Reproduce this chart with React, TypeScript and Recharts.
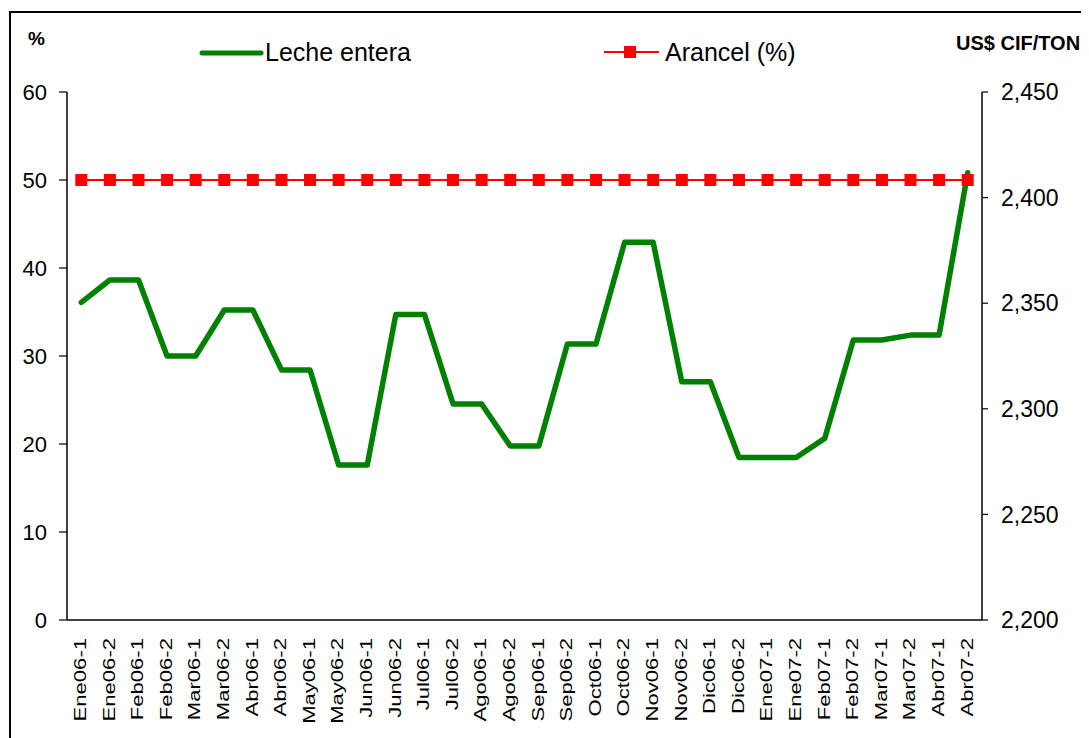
import React from 'react';
import { LineChart, Line, XAxis, YAxis, Legend } from 'recharts';

const categories = [
  'Ene06-1', 'Ene06-2', 'Feb06-1', 'Feb06-2', 'Mar06-1', 'Mar06-2', 'Abr06-1', 'Abr06-2',
  'May06-1', 'May06-2', 'Jun06-1', 'Jun06-2', 'Jul06-1', 'Jul06-2', 'Ago06-1', 'Ago06-2',
  'Sep06-1', 'Sep06-2', 'Oct06-1', 'Oct06-2', 'Nov06-1', 'Nov06-2', 'Dic06-1', 'Dic06-2',
  'Ene07-1', 'Ene07-2', 'Feb07-1', 'Feb07-2', 'Mar07-1', 'Mar07-2', 'Abr07-1', 'Abr07-2',
];

// US$ CIF/TON (right axis)
const lecheEntera = [
  2350.4, 2361, 2361, 2325, 2325, 2346.8, 2346.8, 2318.4,
  2318.4, 2273.4, 2273.4, 2344.7, 2344.7, 2302.3, 2302.3, 2282.4,
  2282.4, 2330.7, 2330.7, 2378.8, 2378.8, 2312.8, 2312.8, 2276.9,
  2276.9, 2276.9, 2286, 2332.6, 2332.6, 2334.9, 2334.9, 2411.8,
];

// % (left axis)
const arancel = [
  50, 50, 50, 50, 50, 50, 50, 50,
  50, 50, 50, 50, 50, 50, 50, 50,
  50, 50, 50, 50, 50, 50, 50, 50,
  50, 50, 50, 50, 50, 50, 50, 50,
];

const pctTicks = [0, 10, 20, 30, 40, 50, 60];
const usdTicks = [2200, 2250, 2300, 2350, 2400, 2450];
const boundaryTicks = [
  0, 1, 2, 3, 4, 5, 6, 7, 8, 9, 10, 11, 12, 13, 14, 15, 16,
  17, 18, 19, 20, 21, 22, 23, 24, 25, 26, 27, 28, 29, 30, 31, 32,
];

const data = categories.map((c, i) => ({ cat: c, leche: lecheEntera[i], arancel: arancel[i] }));

const FONT = 'Liberation Sans, Arial, Helvetica, sans-serif';

const XTick = (props: any) => {
  const { x, y, payload } = props;
  return (
    <text
      transform={`translate(${x},${y + 17}) rotate(-90) scale(1.38,1)`}
      x={0}
      y={0}
      dy="0.3em"
      textAnchor="end"
      fontSize={16}
      fontFamily={FONT}
      fill="#000"
    >
      {payload.value}
    </text>
  );
};

const SquareDot = (props: any) => {
  const { cx, cy, index } = props;
  if (cx == null || cy == null) return null;
  return <rect key={`sq-${index}`} x={cx - 6} y={cy - 6} width={12} height={12} fill="#FF0000" />;
};

const LegendContent = () => (
  <div style={{ position: 'relative', width: 1089, height: 40, fontFamily: FONT }}>
    <svg style={{ position: 'absolute', left: 198, top: 10 }} width={68} height={12}>
      <line x1={4} y1={6} x2={63} y2={6} stroke="#008000" strokeWidth={5} strokeLinecap="round" />
    </svg>
    <span style={{ position: 'absolute', left: 265, top: 0, fontSize: 25, lineHeight: '30px', color: '#000', whiteSpace: 'nowrap' }}>
      Leche entera
    </span>
    <svg style={{ position: 'absolute', left: 602, top: 8, overflow: 'visible' }} width={60} height={14}>
      <line x1={2} y1={7} x2={57} y2={7} stroke="#FF0000" strokeWidth={2} />
      <rect x={22} y={1} width={12} height={12} fill="#FF0000" />
    </svg>
    <span style={{ position: 'absolute', left: 665, top: 0, fontSize: 25, lineHeight: '30px', color: '#000', whiteSpace: 'nowrap' }}>
      Arancel (%)
    </span>
  </div>
);

export default function App() {
  return (
    <div
      style={{
        position: 'relative',
        left: -8,
        top: -8,
        width: 1089,
        height: 738,
        overflow: 'hidden',
        background: '#fff',
        fontFamily: FONT,
      }}
    >
      <LineChart
        width={1089}
        height={738}
        data={data}
        margin={{ top: 92, right: 8, bottom: 8, left: 8 }}
      >
        <XAxis
          xAxisId="bounds"
          type="number"
          domain={[0, 32]}
          ticks={boundaryTicks}
          allowDataOverflow
          height={1}
          tick={false}
          tickSize={7}
          axisLine={{ stroke: '#000', strokeWidth: 1.5 }}
          tickLine={{ stroke: '#000', strokeWidth: 1.2 }}
        />
        <XAxis
          xAxisId="cat"
          dataKey="cat"
          scale="band"
          interval={0}
          height={109}
          axisLine={false}
          tickLine={false}
          tickSize={0}
          tickMargin={0}
          tick={<XTick />}
        />
        <YAxis
          yAxisId="pctInner"
          orientation="left"
          mirror
          width={0}
          type="number"
          domain={[0, 60]}
          ticks={pctTicks}
          allowDataOverflow
          tick={false}
          tickSize={8}
          axisLine={false}
          tickLine={{ stroke: '#000', strokeWidth: 1.2 }}
        />
        <YAxis
          yAxisId="pct"
          orientation="left"
          width={59}
          type="number"
          domain={[0, 60]}
          ticks={pctTicks}
          interval={0}
          tickSize={8}
          tickMargin={12}
          axisLine={{ stroke: '#000', strokeWidth: 1.5 }}
          tickLine={{ stroke: '#000', strokeWidth: 1.2 }}
          tick={{ fontSize: 22, fill: '#000', fontFamily: FONT }}
        />
        <YAxis
          yAxisId="usd"
          orientation="right"
          width={99}
          type="number"
          domain={[2200, 2450]}
          ticks={usdTicks}
          interval={0}
          tickSize={6}
          tickMargin={13}
          tickFormatter={(v: number) => v.toLocaleString('en-US')}
          axisLine={{ stroke: '#000', strokeWidth: 1.5 }}
          tickLine={{ stroke: '#000', strokeWidth: 1.2 }}
          tick={{ fontSize: 23, fill: '#000', fontFamily: FONT, textAnchor: 'start' }}
        />
        <Legend
          layout="horizontal"
          verticalAlign="middle"
          align="center"
          wrapperStyle={{ top: 37, left: 0, width: 1089, height: 40 }}
          content={<LegendContent />}
        />
        <Line
          xAxisId="cat"
          yAxisId="usd"
          type="linear"
          dataKey="leche"
          name="Leche entera"
          stroke="#008000"
          strokeWidth={5.5}
          strokeLinejoin="round"
          strokeLinecap="round"
          dot={false}
          activeDot={false}
          isAnimationActive={false}
        />
        <Line
          xAxisId="cat"
          yAxisId="pct"
          type="linear"
          dataKey="arancel"
          name="Arancel (%)"
          stroke="#FF0000"
          strokeWidth={2}
          dot={<SquareDot />}
          activeDot={false}
          isAnimationActive={false}
        />
      </LineChart>
      <div style={{ position: 'absolute', left: 28, top: 27, fontSize: 19, fontWeight: 'bold', lineHeight: '24px', color: '#000' }}>%</div>
      <div style={{ position: 'absolute', left: 956, top: 31, fontSize: 20, fontWeight: 'bold', lineHeight: '24px', color: '#000', whiteSpace: 'nowrap' }}>
        US$ CIF/TON
      </div>
      <div
        style={{
          position: 'absolute',
          left: 9,
          top: 11,
          width: 1079,
          height: 800,
          border: '2px solid #000',
          boxSizing: 'border-box',
          pointerEvents: 'none',
        }}
      />
    </div>
  );
}
